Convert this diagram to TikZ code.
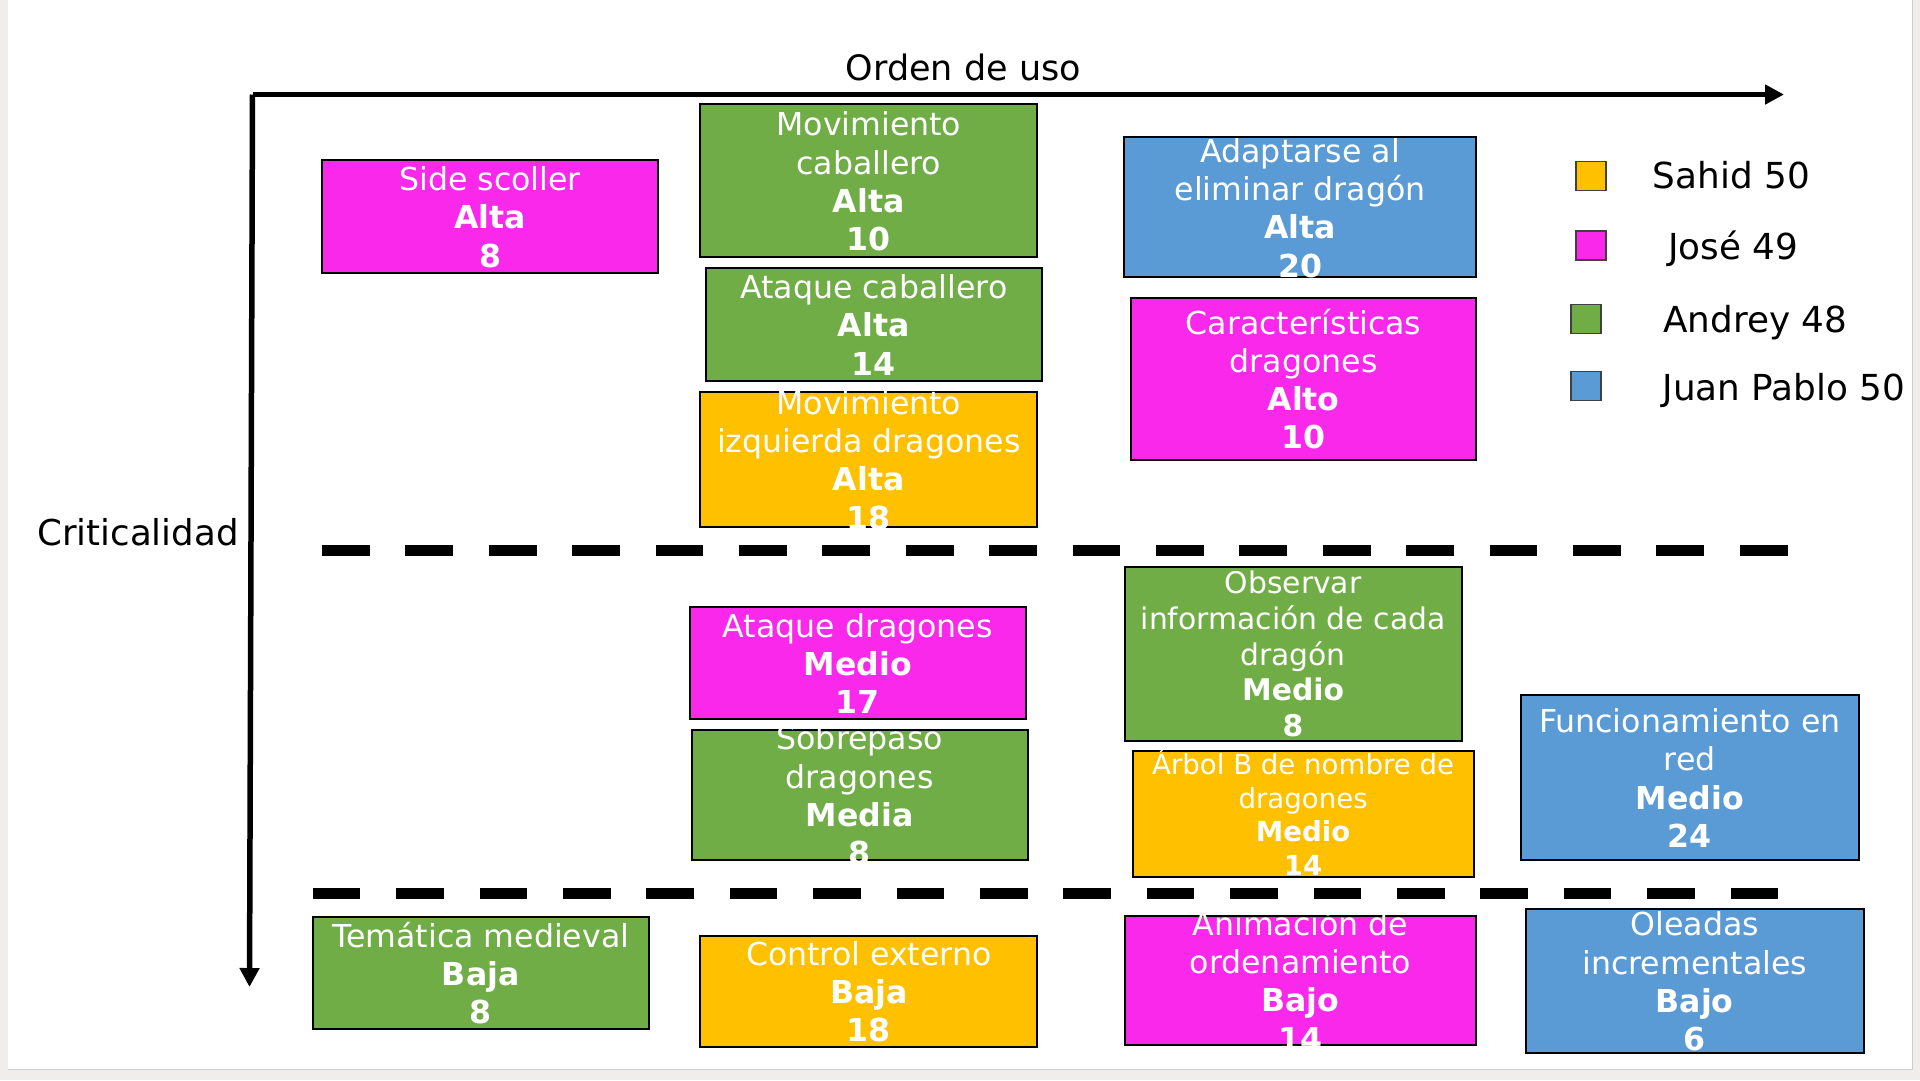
\documentclass[tikz,border=0pt]{standalone}
\usepackage{fontspec}
\setmainfont{DejaVu Sans}
\usetikzlibrary{arrows.meta}
\definecolor{cmag}{RGB}{250,40,234}
\definecolor{cgreen}{RGB}{112,173,71}
\definecolor{corange}{RGB}{255,192,0}
\definecolor{cblue}{RGB}{91,155,213}
\definecolor{cframe}{RGB}{239,238,236}
\definecolor{cshadow}{RGB}{205,205,205}
\newcommand{\sn}{\rule[-6.6pt]{0pt}{38.2pt}}
\newcommand{\so}{\rule[-6.8pt]{0pt}{35.6pt}}
\newcommand{\sr}{\rule[-5.8pt]{0pt}{33.4pt}}
\newcommand{\cardfont}{\fontsize{31.6}{38.2}\selectfont\lineskiplimit=-100pt\relax}
\newcommand{\obsfont}{\fontsize{29.8}{35.6}\selectfont\lineskiplimit=-100pt\relax}
\newcommand{\arbfont}{\fontsize{27.6}{33.4}\selectfont\lineskiplimit=-100pt\relax}
\begin{document}
\begin{tikzpicture}[x=1pt,y=-1pt,
  card/.style={draw=black, line width=2pt, fill=#1, inner sep=0pt, outer sep=0pt},
  cardtext/.style={text=white, align=center, inner sep=0pt, outer sep=0pt, font=\cardfont},
  legsq/.style={draw={rgb,255:red,64;green,64;blue,64}, line width=1.5pt, fill=#1, inner sep=0pt, minimum width=30pt, minimum height=29pt},
  legtext/.style={anchor=base west, inner sep=0pt, font=\fontsize{35.8}{42}\selectfont},
  axis/.style={line width=5.5pt, -{Triangle[length=19pt,width=19pt]}},
  sep/.style={line width=11.5pt, dash pattern=on 47.7pt off 35.7pt}
]
\useasboundingbox (0,0) rectangle (1920,1080);
\fill[cframe] (0,0) rectangle (1920,1080);
\fill[white] (8,0) rectangle (1912,1069);
\draw[cshadow, line width=1.5pt] (8,1069.5) -- (1912.5,1069.5) -- (1912.5,0);

% axes
\coordinate (o) at (252.5,94.5);
\coordinate (xe) at (1784,94.5);
\coordinate (ye) at (249.5,987);
\draw[axis] (o) -- (xe);
\draw[axis] (o) -- (ye);
\node[anchor=base, inner sep=0pt, font=\fontsize{35}{42}\selectfont] (xlab) at (963.3,80) {Orden de uso};
\node[anchor=base, inner sep=0pt, font=\fontsize{35.6}{42}\selectfont] (ylab) at (138,545.7) {Criticalidad};

% separators
\coordinate (s1a) at (322,550.3);
\coordinate (s1b) at (1787.5,550.3);
\coordinate (s2a) at (312.7,893.3);
\coordinate (s2b) at (1778.2,893.3);
\draw[sep] (s1a) -- (s1b);
\draw[sep] (s2a) -- (s2b);

% cards
\node[card=cmag, minimum width=336.6pt, minimum height=112.7pt] (b1) at (490,216.35) {};
\node[cardtext] (t1) at (b1.center) {\sn Side scoller\\\textbf{Alta}\\\textbf{8}\sn};

\node[card=cgreen, minimum width=336.8pt, minimum height=153pt] (b2) at (868.8,180.6) {};
\node[cardtext] (t2) at (b2.center) {\sn Movimiento\\caballero\\\textbf{Alta}\\\textbf{10}\sn};

\node[card=cgreen, minimum width=336.4pt, minimum height=112.7pt] (b3) at (873.8,324.35) {};
\node[cardtext] (t3) at (b3.center) {\sn Ataque caballero\\\textbf{Alta}\\\textbf{14}\sn};

\node[card=corange, minimum width=336.8pt, minimum height=134.8pt] (b4) at (868.8,459.2) {};
\node[cardtext] (t4) at (b4.center) {\sn Movimiento\\izquierda dragones\\\textbf{Alta}\\\textbf{18}\sn};

\node[card=cblue, minimum width=351.7pt, minimum height=140pt] (b5) at (1300.15,207.3) {};
\node[cardtext] (t5) at (b5.center) {\sn Adaptarse al\\eliminar dragón\\\textbf{Alta}\\\textbf{20}\sn};

\node[card=cmag, minimum width=344.8pt, minimum height=162.3pt] (b6) at (1303.6,378.85) {};
\node[cardtext] (t6) at (b6.center) {\sn Características\\dragones\\\textbf{Alto}\\\textbf{10}\sn};

\node[card=cmag, minimum width=336.4pt, minimum height=112.3pt] (b7) at (857.8,662.85) {};
\node[cardtext] (t7) at (b7.center) {\sn Ataque dragones\\\textbf{Medio}\\\textbf{17}\sn};

\node[card=cgreen, minimum width=336.5pt, minimum height=130.5pt] (b8) at (859.75,794.75) {};
\node[cardtext] (t8) at (b8.center) {\sn Sobrepaso\\dragones\\\textbf{Media}\\\textbf{8}\sn};

\node[card=cgreen, minimum width=337.2pt, minimum height=173.4pt] (b9) at (1293.1,654) {};
\node[cardtext, font=\obsfont] (t9) at (b9.center) {\so Observar\\información de cada\\dragón\\\textbf{Medio}\\\textbf{8}\so};

\node[card=corange, minimum width=340.8pt, minimum height=126.3pt] (b10) at (1303.1,814.15) {};
\node[cardtext, font=\arbfont] (t10) at (b10.center) {\sr Árbol B de nombre de\\dragones\\\textbf{Medio}\\\textbf{14}\sr};

\node[card=cblue, minimum width=337.7pt, minimum height=165pt] (b11) at (1689.85,777.5) {};
\node[cardtext] (t11) at (b11.center) {\sn Funcionamiento en\\red\\\textbf{Medio}\\\textbf{24}\sn};

\node[card=cgreen, minimum width=336.5pt, minimum height=111.7pt] (b12) at (480.75,973.15) {};
\node[cardtext] (t12) at (b12.center) {\sn Temática medieval\\\textbf{Baja}\\\textbf{8}\sn};

\node[card=corange, minimum width=336.8pt, minimum height=111.5pt] (b13) at (868.8,991.25) {};
\node[cardtext] (t13) at (b13.center) {\sn Control externo\\\textbf{Baja}\\\textbf{18}\sn};

\node[card=cmag, minimum width=350.2pt, minimum height=128.5pt] (b14) at (1300.4,980.25) {};
\node[cardtext] (t14) at (b14.center) {\sn Animación de\\ordenamiento\\\textbf{Bajo}\\\textbf{14}\sn};

\node[card=cblue, minimum width=338pt, minimum height=144pt] (b15) at (1694.7,980.7) {};
\node[cardtext] (t15) at (b15.center) {\sn Oleadas\\incrementales\\\textbf{Bajo}\\\textbf{6}\sn};

% legend
\node[legsq=corange] (l1) at (1591.15,175.85) {};
\node[legsq=cmag] (l2) at (1591.15,245.65) {};
\node[legsq=cgreen] (l3) at (1586,318.8) {};
\node[legsq=cblue] (l4) at (1586,386) {};
\node[legtext] (lt1) at (1652.7,188.3) {Sahid 50};
\node[legtext] (lt2) at (1668,259.3) {José 49};
\node[legtext] (lt3) at (1663,332.7) {Andrey 48};
\node[legtext] (lt4) at (1662.5,400) {Juan Pablo 50};
\end{tikzpicture}
\end{document}
